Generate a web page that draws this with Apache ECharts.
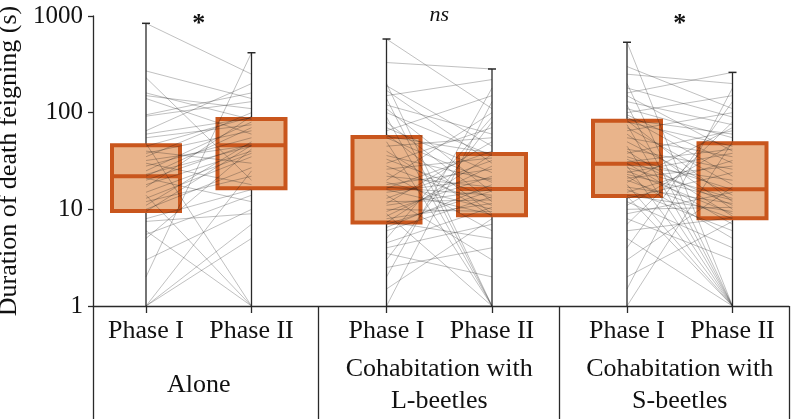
<!DOCTYPE html>
<html>
<head>
<meta charset="utf-8">
<script src="https://cdn.jsdelivr.net/npm/echarts@6/dist/echarts.min.js"></script>
<style>
  html, body { margin: 0; padding: 0; background: #fff; }
  #chart { width: 794px; height: 419px; }
</style>
</head>
<body>
<div id="chart"></div>
<script>
// categories
const groups = ['Alone', 'Cohabitation with\nL-beetles', 'Cohabitation with\nS-beetles'];
const phases = ['Phase I', 'Phase II'];
const marks = ['*', 'ns', '*'];
const yTicks = [1, 10, 100, 1000];

// box stats per phase: [min, Q1, median, Q3, max]
const aloneBox = [[1, 9.6, 22, 46, 840], [1, 16.5, 46, 86, 417]];
const lBeetleBox = [[1, 7.3, 16.5, 56, 578], [1, 8.7, 16.2, 37.4, 283]];
const sBeetleBox = [[1, 13.7, 29.7, 82.6, 535], [1, 8.1, 16.1, 48.2, 261]];

// individual durations (s), same order in both phases
const alonePhase1 = [840, 270, 230, 160, 150, 140, 95, 92, 65, 60, 55, 48, 45, 40, 38, 35, 32, 30, 28, 25, 23, 22, 21, 20, 18, 17, 15, 14, 13, 12, 11, 10, 9.5, 8, 7.5, 6, 5.5, 5, 3, 2, 1, 1, 1];
const alonePhase2 = [250, 140, 20, 85, 110, 60, 160, 130, 200, 88, 75, 1, 90, 30, 65, 100, 46, 18, 55, 80, 45, 70, 12, 48, 40, 92, 38, 1, 35, 22, 50, 27, 46, 16, 9, 1, 14, 42, 10, 417, 25, 7, 5];
const lBeetlePhase1 = [578, 330, 200, 190, 170, 150, 140, 120, 110, 100, 90, 80, 70, 65, 60, 57, 55, 50, 45, 40, 36, 33, 30, 28, 26, 24, 22, 20, 19, 18, 17, 16.5, 16, 15, 14, 13, 12, 11.5, 11, 10, 9.5, 9, 8.5, 8, 7.5, 7.3, 7, 6.5, 6, 5, 4.5, 4, 3.5, 3, 2.5, 2, 1.5, 1, 1, 1];
const lBeetlePhase2 = [110, 283, 1, 45, 30, 220, 1, 60, 15, 36, 1, 12, 24, 150, 9, 38, 19, 1, 55, 8.5, 20, 13, 70, 11, 34, 6, 17, 100, 10, 26, 14, 40, 8.8, 21, 3, 32, 12.5, 50, 16, 9.5, 22, 1, 28, 11.5, 5, 37, 15.5, 18, 13.5, 90, 10.5, 7, 2, 80, 4, 180, 8, 130, 1, 1];
const sBeetlePhase1 = [535, 300, 250, 200, 180, 160, 150, 130, 120, 110, 100, 95, 90, 85, 83, 80, 75, 70, 65, 60, 55, 50, 45, 42, 40, 38, 35, 33, 31, 30, 29, 28, 27, 25, 24, 23, 22, 21, 20, 19, 18, 17, 16, 15, 14, 13.7, 13, 12, 11, 10, 9, 8, 7, 6, 5, 4, 3, 2, 1.5, 1];
const sBeetlePhase2 = [1, 110, 200, 1, 90, 261, 40, 75, 1, 55, 150, 30, 22, 60, 12, 45, 1, 18, 100, 10, 35, 14, 1, 26, 8.5, 65, 16, 11, 42, 7, 20, 1, 13, 9, 38, 12.5, 5, 28, 8, 70, 1, 11.5, 6, 32, 9.5, 1, 24, 4, 47, 10.5, 15, 3, 80, 8.2, 1, 130, 17, 7.5, 180, 50];

const boxes = [aloneBox, lBeetleBox, sBeetleBox];
const pairs = [[alonePhase1, alonePhase2], [lBeetlePhase1, lBeetlePhase2], [sBeetlePhase1, sBeetlePhase2]];

// layout along the x axis (axis units)
const X_MAX = 696, FIRST_X = 53, GROUP_STEP = 240.5, PHASE_STEP = 105.5;
const phaseX = (g, p) => FIRST_X + g * GROUP_STEP + p * PHASE_STEP;
const phaseXs = [];
groups.forEach((_, g) => phases.forEach((_, p) => phaseXs.push(phaseX(g, p))));
const groupCenters = groups.map((_, g) => phaseX(g, 0) + PHASE_STEP / 2);
const separators = [0, 225.5, 466, X_MAX];

const FONT = '"Liberation Serif", "DejaVu Serif", serif';
const ORANGE = '#c9561d';
const FILL = '#e9b48b';
const INK = '#2a2a2a';

const boxData = [];
boxes.forEach((b, g) => b.forEach((s, p) => boxData.push([phaseX(g, p)].concat(s))));
const lineData = [];
pairs.forEach((pr, g) => pr[0].forEach((v, i) => lineData.push([phaseX(g, 0), v, phaseX(g, 1), pr[1][i]])));

let chart = echarts.init(document.getElementById('chart'));

chart.setOption({
    animation: false,
    backgroundColor: '#fff',
    grid: { left: 93, right: 5, top: 16, bottom: 113, outerBoundsMode: 'none', containLabel: false },
    xAxis: [{
        type: 'value', min: 0, max: X_MAX, position: 'bottom',
        axisLine: { show: true, lineStyle: { color: INK, width: 1.3 } },
        axisTick: { show: true, customValues: phaseXs, length: 7, lineStyle: { color: INK, width: 1.3 } },
        axisLabel: {
            customValues: phaseXs, margin: 12, color: '#111',
            fontFamily: FONT, fontSize: 26,
            formatter: v => phases[phaseXs.indexOf(v) % 2]
        },
        splitLine: { show: false }
    }, {
        type: 'value', min: 0, max: X_MAX, position: 'bottom',
        axisLine: { show: false },
        axisTick: { show: true, customValues: separators, length: 113, lineStyle: { color: INK, width: 1.3 } },
        axisLabel: {
            customValues: groupCenters, margin: 79, verticalAlign: 'middle', lineHeight: 32,
            color: '#111', fontFamily: FONT, fontSize: 26,
            formatter: v => groups[groupCenters.indexOf(v)]
        },
        splitLine: { show: false }
    }],
    yAxis: {
        type: 'log', logBase: 10, min: 1, max: 1000,
        name: 'Duration of death feigning (s)', nameLocation: 'middle', nameGap: 62,
        nameTextStyle: { fontFamily: FONT, fontSize: 26, color: '#111' },
        axisLine: { show: true, lineStyle: { color: INK, width: 1.3 } },
        axisTick: { show: true, length: 5, lineStyle: { color: INK, width: 1.3 } },
        axisLabel: { margin: 10, color: '#111', fontFamily: FONT, fontSize: 25,
            formatter: v => yTicks.indexOf(v) >= 0 ? String(v) : '' },
        splitLine: { show: false },
        minorTick: { show: false }
    },
    series: [{
        // whiskers
        type: 'custom', z: 1, silent: true,
        encode: { x: 0, y: [1, 5] },
        data: boxData,
        renderItem: function (params, api) {
            const x = api.value(0);
            const top = api.coord([x, api.value(5)]);
            const bottom = api.coord([x, api.value(1)]);
            return {
                type: 'group', children: [
                    { type: 'line', shape: { x1: top[0], y1: top[1], x2: bottom[0], y2: bottom[1] }, style: { stroke: INK, lineWidth: 1.3 } },
                    { type: 'line', shape: { x1: top[0] - 4, y1: top[1], x2: top[0] + 4, y2: top[1] }, style: { stroke: INK, lineWidth: 1.5 } }
                ]
            };
        }
    }, {
        // boxes
        type: 'custom', z: 2, silent: true,
        encode: { x: 0, y: [2, 4] },
        data: boxData,
        renderItem: function (params, api) {
            const x = api.value(0);
            const q1 = api.coord([x, api.value(2)]);
            const med = api.coord([x, api.value(3)]);
            const q3 = api.coord([x, api.value(4)]);
            const half = 34;
            return {
                type: 'group', children: [
                    { type: 'rect', shape: { x: q3[0] - half, y: q3[1], width: half * 2, height: q1[1] - q3[1] },
                      style: { fill: FILL, stroke: ORANGE, lineWidth: 4 } },
                    { type: 'line', shape: { x1: q3[0] - half, y1: med[1], x2: q3[0] + half, y2: med[1] },
                      style: { stroke: ORANGE, lineWidth: 4 } }
                ]
            };
        }
    }, {
        // paired individual lines
        type: 'custom', z: 3, silent: true,
        encode: { x: [0, 2], y: [1, 3] },
        data: lineData,
        renderItem: function (params, api) {
            const a = api.coord([api.value(0), api.value(1)]);
            const b = api.coord([api.value(2), api.value(3)]);
            return { type: 'line', shape: { x1: a[0], y1: a[1], x2: b[0], y2: b[1] },
                     style: { stroke: 'rgba(30,30,30,0.28)', lineWidth: 1 } };
        }
    }]
});

// significance marks above each group
chart.setOption({
    graphic: groupCenters.map((c, g) => ({
        type: 'text',
        x: chart.convertToPixel({ xAxisIndex: 0 }, c),
        y: marks[g] === '*' ? 24 : 15,
        style: {
            text: marks[g],
            font: marks[g] === '*' ? 'bold 26px ' + FONT : 'italic 22px ' + FONT,
            fill: '#111', align: 'center', verticalAlign: 'middle'
        }
    }))
});
</script>
</body>
</html>
